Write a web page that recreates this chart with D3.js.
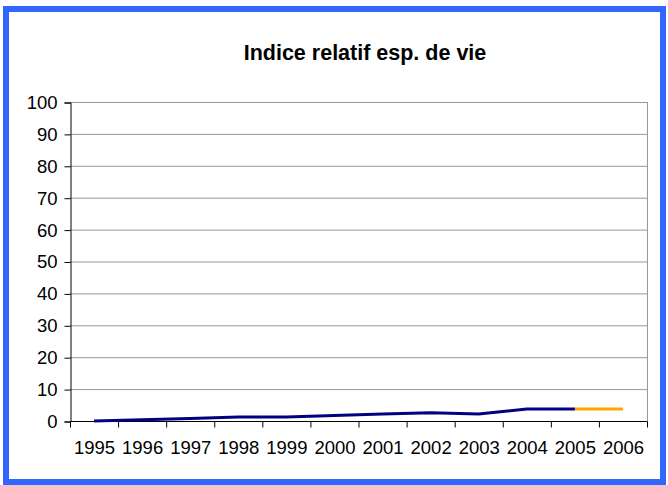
<!DOCTYPE html>
<html><head><meta charset="utf-8">
<script src="https://cdn.jsdelivr.net/npm/d3@7"></script>
<style>body{margin:0;background:#fff}svg{display:block}</style>
</head><body>
<svg id="c" width="668" height="485"></svg>
<script>
const title = "Indice relatif esp. de vie";
const years = ["1995","1996","1997","1998","1999","2000","2001","2002","2003","2004","2005","2006"];
const histYears = ["1995","1996","1997","1998","1999","2000","2001","2002","2003","2004","2005"];
const histValues = [0, 0.4, 0.8, 1.25, 1.25, 1.7, 2.2, 2.6, 2.2, 3.75, 3.75];
const projYears = ["2005","2006"];
const projValues = [3.75, 3.75];
const yTicks = [0,10,20,30,40,50,60,70,80,90,100];

const svg = d3.select("#c");
const font = "'Liberation Sans', Arial, sans-serif";
svg.append("rect").attr("x",6).attr("y",9).attr("width",657).attr("height",473)
  .attr("fill","#fff").attr("stroke","#3366ff").attr("stroke-width",6);

const L=70, R=647, T=102, B=421;
const x = d3.scaleBand().domain(years).range([L,R]);
const y = d3.scaleLinear().domain([0,100]).range([B,T]);

svg.append("text").attr("x",365).attr("y",60).attr("text-anchor","middle")
  .attr("font-family",font).attr("font-weight","bold").attr("font-size",21.5).text(title);

// gridlines
svg.append("g").selectAll("line").data(yTicks.filter(d=>d>0)).join("line")
  .attr("x1",L).attr("x2",R).attr("y1",d=>y(d)+0.5).attr("y2",d=>y(d)+0.5)
  .attr("stroke","#999").attr("stroke-width",1);
svg.append("line").attr("x1",R+0.5).attr("x2",R+0.5).attr("y1",T).attr("y2",B).attr("stroke","#999");

// y axis
const ya = svg.append("g").attr("transform",`translate(${L+0.5},0.5)`)
  .call(d3.axisLeft(y).tickValues(yTicks).tickSize(6).tickPadding(7));
ya.select(".domain").attr("stroke","#000");
ya.attr("font-family",font).attr("font-size",18.5);
ya.selectAll("text").attr("fill","#000");

// x axis
const xa = svg.append("g").attr("transform",`translate(0.5,${B+0.5})`);
xa.append("line").attr("x1",L).attr("x2",R).attr("stroke","#000");
xa.selectAll("line.t").data(years.concat(["end"])).join("line").attr("class","t")
  .attr("x1",(d,i)=>i<years.length?x(d):R).attr("x2",(d,i)=>i<years.length?x(d):R)
  .attr("y1",0).attr("y2",6).attr("stroke","#000");
xa.selectAll("text").data(years).join("text")
  .attr("x",d=>x(d)+x.bandwidth()/2).attr("y",32).attr("text-anchor","middle")
  .attr("font-family",font).attr("font-size",18.5).text(d=>d);

const line = d3.line().x(d=>x(d[0])+x.bandwidth()/2).y(d=>y(d[1]));
svg.append("path").datum(projYears.map((d,i)=>[d,projValues[i]]))
  .attr("d",line).attr("fill","none").attr("stroke","#ffa500").attr("stroke-width",3);
svg.append("path").datum(histYears.map((d,i)=>[d,histValues[i]]))
  .attr("d",line).attr("fill","none").attr("stroke","#000080").attr("stroke-width",3);
</script>
</body></html>
